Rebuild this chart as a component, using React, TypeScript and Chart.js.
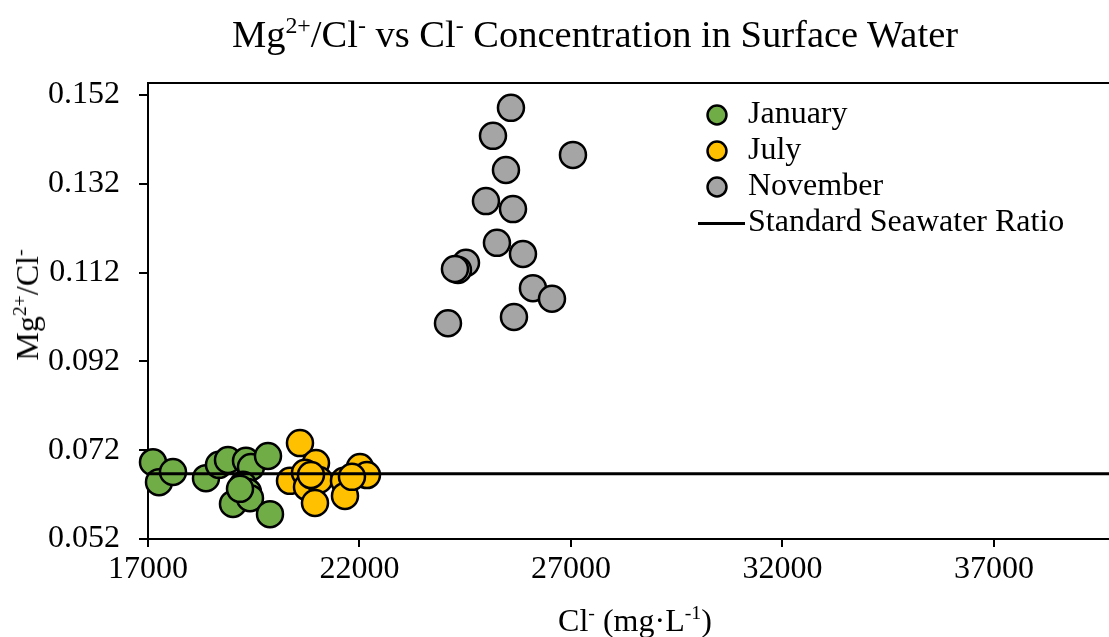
import React, { useEffect, useRef } from 'react';
import { Chart, registerables } from 'chart.js';

Chart.register(...registerables);

const januaryCl = [17118, 17260, 17591, 18371, 18678, 18891, 19317, 19435, 19837, 19246, 19364, 19009, 19411, 19884, 19175];
const januaryRatio = [0.0693, 0.0648, 0.0671, 0.0657, 0.0687, 0.0698, 0.0696, 0.0682, 0.0707, 0.0642, 0.0626, 0.0599, 0.0612, 0.0576, 0.0633];
const julyCl = [20593, 20972, 20357, 20711, 20759, 21042, 20948, 21633, 21657, 22012, 22177, 21822, 20853];
const julyRatio = [0.0736, 0.0691, 0.0651, 0.0669, 0.0637, 0.0653, 0.0601, 0.0651, 0.0617, 0.0682, 0.0664, 0.066, 0.0664];
const novemberCl = [25581, 25156, 27047, 25463, 24990, 25629, 25250, 25865, 24518, 24328, 24257, 26101, 26551, 24092, 25652];
const novemberRatio = [0.1491, 0.1428, 0.1385, 0.1351, 0.1281, 0.1263, 0.1187, 0.1162, 0.1142, 0.1126, 0.1128, 0.1085, 0.1061, 0.1006, 0.102];
const seawaterRatio = 0.0667;
const seriesNames = ['January', 'July', 'November', 'Standard Seawater Ratio'];
const xTicks = [17000, 22000, 27000, 32000, 37000];
const yTicks = [0.052, 0.072, 0.092, 0.112, 0.132, 0.152];
const xMin = 17000;
const xMax = 39720;
const yMin = 0.052;
const yMax = 0.1547;

const FONT = '"Liberation Serif", "Times New Roman", serif';

const Sup = ({ children }: { children: React.ReactNode }) => (
  <span style={{ fontSize: '0.62em', verticalAlign: '0.6em', lineHeight: 0 }}>{children}</span>
);

export default function App() {
  const ref = useRef<HTMLCanvasElement>(null);

  useEffect(() => {
    if (!ref.current) return;
    const lineIcon = document.createElement('canvas');
    lineIcon.width = 56;
    lineIcon.height = 3;
    const ictx = lineIcon.getContext('2d')!;
    ictx.fillStyle = '#000';
    ictx.fillRect(0, 0, 56, 3);

    const zip = (xs: number[], ys: number[]) => xs.map((x, i) => ({ x, y: ys[i] }));

    const topBorder = {
      id: 'topBorder',
      afterDraw(chart: any) {
        const { ctx, chartArea: a } = chart;
        ctx.save();
        ctx.strokeStyle = '#000';
        ctx.lineWidth = 2;
        ctx.beginPath();
        ctx.moveTo(a.left - 1, a.top);
        ctx.lineTo(a.right, a.top);
        ctx.stroke();
        ctx.restore();
      },
    };

    const legendPlacer = {
      id: 'legendPlacer',
      afterLayout(chart: any) {
        const lg = chart.legend;
        if (!lg) return;
        const w = lg.width;
        const h = lg.height;
        lg.left = 698;
        lg.right = 698 + w;
        lg.top = 95;
        lg.bottom = 95 + h;
      },
    };

    const pointStyleBase = {
      pointRadius: 13,
      pointBorderWidth: 2.5,
      pointBorderColor: '#000',
      borderColor: '#000',
      borderWidth: 2,
      pointStyle: 'circle',
      clip: false as any,
    };

    const chart = new Chart(ref.current, {
      type: 'scatter',
      data: {
        datasets: [
          {
            ...pointStyleBase,
            label: seriesNames[0],
            data: zip(januaryCl, januaryRatio),
            backgroundColor: '#70AD47',
            pointBackgroundColor: '#70AD47',
            order: 3,
          },
          {
            ...pointStyleBase,
            label: seriesNames[1],
            data: zip(julyCl, julyRatio),
            backgroundColor: '#FFC000',
            pointBackgroundColor: '#FFC000',
            order: 2,
          },
          {
            ...pointStyleBase,
            label: seriesNames[2],
            data: zip(novemberCl, novemberRatio),
            backgroundColor: '#A5A5A5',
            pointBackgroundColor: '#A5A5A5',
            order: 1,
          },
          {
            type: 'line' as any,
            label: seriesNames[3],
            data: [
              { x: xMin, y: seawaterRatio },
              { x: xMax, y: seawaterRatio },
            ],
            borderColor: '#000',
            backgroundColor: '#000',
            borderWidth: 3,
            pointRadius: 0,
            pointStyle: lineIcon as any,
            showLine: true,
            order: 0,
          } as any,
        ],
      },
      options: {
        responsive: false,
        animation: false,
        events: [],
        layout: { autoPadding: false, padding: { top: 83, left: 0, right: 0, bottom: 0 } },
        plugins: {
          title: { display: false },
          tooltip: { enabled: false },
          legend: {
            display: true,
            position: 'chartArea' as any,
            align: 'start',
            labels: {
              usePointStyle: true,
              boxWidth: 30,
              boxHeight: 13.4,
              padding: 4,
              color: '#000',
              font: { family: FONT, size: 32 },
              sort: (a: any, b: any) => a.datasetIndex - b.datasetIndex,
            },
          },
        },
        scales: {
          x: {
            type: 'linear',
            min: xMin,
            max: xMax,
            afterBuildTicks: (s: any) => {
              s.ticks = xTicks.map((v) => ({ value: v }));
            },
            afterFit: (s: any) => {
              s.height = 98;
              s.paddingLeft = 0;
              s.paddingRight = 0;
            },
            ticks: {
              color: '#000',
              font: { family: FONT, size: 32 },
              padding: 3,
              maxRotation: 0,
              autoSkip: false,
              callback: (v: any) => String(v),
            },
            grid: { drawOnChartArea: false, drawTicks: true, tickLength: 8, color: '#000', lineWidth: 2 },
            border: { display: true, color: '#000', width: 2 },
          },
          y: {
            type: 'linear',
            min: yMin,
            max: yMax,
            afterBuildTicks: (s: any) => {
              s.ticks = yTicks.map((v) => ({ value: v }));
            },
            afterFit: (s: any) => {
              s.width = 148;
              s.paddingTop = 0;
              s.paddingBottom = 0;
            },
            ticks: {
              color: '#000',
              font: { family: FONT, size: 32 },
              padding: 19,
              autoSkip: false,
              callback: (v: any) => Number(v).toFixed(3),
            },
            grid: { drawOnChartArea: false, drawTicks: true, tickLength: 9, color: '#000', lineWidth: 2 },
            border: { display: true, color: '#000', width: 2 },
          },
        },
      },
      plugins: [topBorder, legendPlacer],
    });
    return () => chart.destroy();
  }, []);

  return (
    <div
      style={{
        position: 'absolute',
        left: 0,
        top: 0,
        width: 1109,
        height: 637,
        overflow: 'hidden',
        background: '#fff',
        fontFamily: FONT,
        color: '#000',
      }}
    >
      <canvas ref={ref} width={1109} height={637} style={{ position: 'absolute', left: 0, top: 0 }} />
      <div
        style={{
          position: 'absolute',
          left: 595,
          top: 15,
          transform: 'translateX(-50%)',
          whiteSpace: 'nowrap',
          fontSize: 38.5,
          lineHeight: 1,
        }}
      >
        Mg<Sup>2+</Sup>/Cl<Sup>-</Sup> vs Cl<Sup>-</Sup> Concentration in Surface Water
      </div>
      <div
        style={{
          position: 'absolute',
          left: 635,
          top: 604,
          transform: 'translateX(-50%)',
          whiteSpace: 'nowrap',
          fontSize: 32,
          lineHeight: 1,
        }}
      >
        Cl<Sup>-</Sup> (mg·L<Sup>-1</Sup>)
      </div>
      <div
        style={{
          position: 'absolute',
          left: 27,
          top: 305,
          transform: 'translate(-50%, -50%) rotate(-90deg)',
          whiteSpace: 'nowrap',
          fontSize: 32,
          lineHeight: 1,
        }}
      >
        Mg<Sup>2+</Sup>/Cl<Sup>-</Sup>
      </div>
    </div>
  );
}
